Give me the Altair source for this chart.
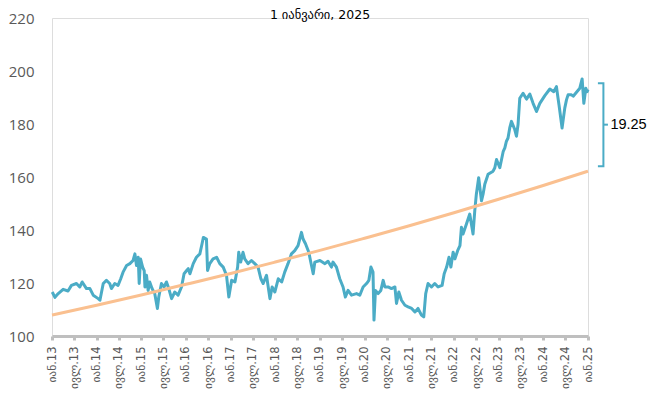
import altair as alt
import pandas as pd

title_text = "1 იანვარი, 2025"

blue_dates = [
"2013-01-03","2013-01-25","2013-02-21","2013-04-02","2013-05-12","2013-06-09","2013-07-20","2013-08-16",
"2013-09-05","2013-10-10","2013-11-07","2013-12-04","2014-01-14","2014-01-28","2014-02-24","2014-03-22",
"2014-04-18","2014-05-02","2014-05-29","2014-06-25","2014-07-17","2014-08-05","2014-09-03","2014-09-30",
"2014-10-26","2014-11-10","2014-11-23","2014-12-07","2014-12-15","2014-12-26","2015-01-12","2015-01-25",
"2015-01-31","2015-02-13","2015-02-26","2015-03-11","2015-03-30","2015-04-21","2015-05-13","2015-05-24",
"2015-06-15","2015-07-06","2015-07-26","2015-08-14","2015-09-06","2015-10-02","2015-10-29","2015-11-26",
"2015-12-17","2016-01-07","2016-01-20","2016-02-03","2016-03-01","2016-03-27","2016-04-24","2016-05-12",
"2016-05-23","2016-06-17","2016-06-26","2016-07-14","2016-08-10","2016-09-08","2016-10-04","2016-11-01",
"2016-11-28","2016-12-17","2017-01-09","2017-02-05","2017-02-27","2017-03-08","2017-03-24","2017-04-12",
"2017-04-26","2017-05-23","2017-06-20","2017-07-17","2017-08-13","2017-09-05","2017-09-24","2017-10-21",
"2017-11-18","2017-12-06","2017-12-28","2018-01-25","2018-02-22","2018-03-19","2018-04-15","2018-05-13",
"2018-06-09","2018-07-06","2018-08-03","2018-08-16","2018-09-05","2018-10-02","2018-10-18","2018-11-07",
"2018-11-20","2019-01-01","2019-02-11","2019-03-08","2019-04-05","2019-04-18","2019-05-16","2019-06-12",
"2019-07-09","2019-07-28","2019-08-19","2019-09-16","2019-10-27","2019-11-23","2019-12-20","2020-01-17",
"2020-02-05","2020-02-22","2020-03-10","2020-03-18","2020-03-30","2020-04-21","2020-05-13","2020-06-01",
"2020-06-15","2020-07-11","2020-08-08","2020-09-05","2020-09-18","2020-10-07","2020-10-29","2020-11-26",
"2020-12-22","2021-01-20","2021-02-16","2021-03-13","2021-04-10","2021-04-29","2021-05-15","2021-06-03",
"2021-07-01","2021-07-28","2021-08-24","2021-09-26","2021-10-13","2021-11-02","2021-11-21","2021-12-07",
"2021-12-25","2022-01-09","2022-01-31","2022-02-19","2022-03-03","2022-03-16","2022-04-13","2022-05-10",
"2022-06-06","2022-06-20","2022-07-03","2022-07-22","2022-08-14","2022-08-27","2022-09-10","2022-10-07",
"2022-11-17","2022-12-01","2022-12-15","2023-01-11","2023-02-08","2023-02-21","2023-03-06","2023-03-19",
"2023-04-02","2023-04-16","2023-05-13","2023-05-27","2023-06-09","2023-06-23","2023-07-20","2023-08-17",
"2023-09-13","2023-10-10","2023-11-07","2023-12-04","2024-01-14","2024-02-24","2024-03-27","2024-04-18",
"2024-05-01","2024-05-09","2024-06-03","2024-06-25","2024-07-09","2024-07-22","2024-08-19","2024-09-02",
"2024-09-29","2024-10-26","2024-11-14","2024-11-28","2024-12-14","2024-12-25","2025-01-01",
]
blue_values = [
116.6,114.6,116.0,117.6,117.0,119.1,119.8,118.5,
120.4,117.9,117.9,115.4,114.1,113.5,119.8,121.0,
119.8,117.9,119.8,119.1,121.6,124.1,126.6,127.3,
128.5,131.0,126.6,129.7,119.8,129.1,126.0,124.7,
118.5,122.9,117.2,120.4,117.9,116.0,110.4,114.7,
119.8,118.5,120.4,117.9,114.1,116.6,115.4,118.5,
123.5,124.7,125.4,123.5,127.3,129.7,131.0,134.8,
137.2,136.6,124.7,127.3,129.1,129.7,127.3,126.0,
122.9,114.7,121.0,120.4,126.0,131.6,127.9,131.6,
129.1,127.3,128.5,127.3,126.0,121.6,119.8,122.9,
114.1,118.5,116.6,121.6,120.4,124.1,127.3,131.0,
132.2,134.1,139.1,136.6,134.8,131.6,127.9,123.5,
127.9,128.5,127.3,128.2,126.0,127.9,126.0,121.6,
118.5,114.7,117.2,115.4,116.0,115.4,118.5,119.8,
121.0,126.0,124.1,106.0,117.2,116.0,117.2,121.0,
118.5,118.5,117.9,118.5,112.3,116.6,113.5,111.6,
111.0,110.4,109.1,110.4,107.9,107.2,116.0,119.8,
118.5,119.8,118.5,119.1,123.5,126.0,129.7,126.0,
131.6,129.1,132.2,134.1,141.0,138.5,142.3,146.0,
138.5,147.2,153.5,159.7,151.0,153.5,157.3,161.0,
162.2,163.5,166.6,163.5,169.7,171.0,173.5,174.7,
178.5,181.0,177.9,175.4,179.8,189.7,191.6,189.4,
191.3,187.8,184.7,187.8,190.7,193.2,192.2,194.1,
189.7,187.2,178.5,186.0,189.1,191.0,191.0,190.5,
192.0,193.5,197.0,187.8,193.5,192.2,193.0,
]

trend_dates = ["2013-01-01","2014-01-01","2015-01-01","2016-01-01","2017-01-01","2018-01-01","2019-01-01",
               "2020-01-01","2021-01-01","2022-01-01","2023-01-01","2024-01-01","2025-01-01"]
trend_values = [107.9,111.6,115.5,119.5,123.6,127.9,132.3,136.9,141.6,146.5,151.6,156.8,162.2]

tick_dates = ["2013-01-01","2013-07-01","2014-01-01","2014-07-01","2015-01-01","2015-07-01","2016-01-01",
              "2016-07-01","2017-01-01","2017-07-01","2018-01-01","2018-07-01","2019-01-01","2019-07-01",
              "2020-01-01","2020-07-01","2021-01-01","2021-07-01","2022-01-01","2022-07-01","2023-01-01",
              "2023-07-01","2024-01-01","2024-07-01","2025-01-01"]
tick_labels = ["იან.13","ივლ.13","იან.14","ივლ.14","იან.15","ივლ.15","იან.16","ივლ.16","იან.17","ივლ.17",
               "იან.18","ივლ.18","იან.19","ივლ.19","იან.20","ივლ.20","იან.21","ივლ.21","იან.22","ივლ.22",
               "იან.23","ივლ.23","იან.24","ივლ.24","იან.25"]
y_ticks = [100, 120, 140, 160, 180, 200, 220]

gap_top = 195.4
gap_bottom = 164.1
gap_label = "19.25"
bracket_left = "2025-03-23"
bracket_right = "2025-05-07"
bracket_tick = "2025-06-13"
label_date = "2025-07-03"

BLUE = "#4bacc6"
ORANGE = "#fac090"
GREY_TXT = "#595959"

blue_df = pd.DataFrame({"date": blue_dates, "value": blue_values})
trend_df = pd.DataFrame({"date": trend_dates, "value": trend_values})


def ms(d):
    return int(pd.Timestamp(d, tz="UTC").value // 10**6)


tick_ms = [ms(d) for d in tick_dates]
label_expr = "[" + ",".join("'" + t + "'" for t in tick_labels) + \
    "][round((utcyear(datum.value)-2013)*2 + utcmonth(datum.value)/6)]"

x_scale = alt.Scale(type="utc", domain=[ms(tick_dates[0]), ms(tick_dates[-1])])
y_scale = alt.Scale(domain=[100, 220], nice=False, zero=False)

x_axis = alt.Axis(values=tick_ms, tickCount=60, labelExpr=label_expr, labelAngle=-90, title=None,
                  grid=False, domainColor="#bfbfbf", domainWidth=3, tickColor="#bfbfbf",
                  tickWidth=3, tickSize=4, labelPadding=6, labelFont="DejaVu Sans",
                  labelFontSize=11.5, labelColor=GREY_TXT, labelAlign="right",
                  labelBaseline="middle", labelOverlap=False, labelFlush=False)
y_axis = alt.Axis(values=y_ticks, title=None, grid=False, domain=False, ticks=False,
                  labelPadding=18, labelFont="Open Sans", labelFontSize=15,
                  labelColor=GREY_TXT)

blue = alt.Chart(blue_df).mark_line(color=BLUE, strokeWidth=3, strokeJoin="round").encode(
    x=alt.X("date:T", scale=x_scale, axis=x_axis),
    y=alt.Y("value:Q", scale=y_scale, axis=y_axis),
)
trend = alt.Chart(trend_df).mark_line(color=ORANGE, strokeWidth=3, interpolate="monotone").encode(
    x="date:T", y="value:Q"
)

bracket_df = pd.DataFrame({
    "date": [bracket_left, bracket_right, bracket_right, bracket_left],
    "value": [gap_top, gap_top, gap_bottom, gap_bottom],
    "o": [0, 1, 2, 3],
})
bracket = alt.Chart(bracket_df).mark_line(color=BLUE, strokeWidth=2, clip=False).encode(
    x="date:T", y="value:Q", order="o:Q"
)
mid = (gap_top + gap_bottom) / 2
tick_df = pd.DataFrame({"date": [bracket_right], "date2": [bracket_tick], "value": [mid]})
btick = alt.Chart(tick_df).mark_rule(color=BLUE, strokeWidth=2, clip=False).encode(
    x="date:T", x2="date2:T", y="value:Q"
)
lab_df = pd.DataFrame({"date": [label_date], "value": [mid], "t": [gap_label]})
lab = alt.Chart(lab_df).mark_text(align="left", baseline="middle", font="Liberation Sans",
                                  fontSize=14.5, color="#000000", clip=False).encode(
    x="date:T", y="value:Q", text="t:N"
)
title_df = pd.DataFrame({"t": [title_text]})
title = alt.Chart(title_df).mark_text(align="center", baseline="middle", font="DejaVu Sans",
                                      fontSize=12.5, color="#000000").encode(
    x=alt.value(268), y=alt.value(-3), text="t:N"
)

chart = alt.layer(blue, trend, bracket, btick, lab, title).properties(
    width=536, height=318,
    autosize=alt.AutoSizeParams(type="none"),
    padding={"left": 44, "top": 10, "right": 61, "bottom": 59},
).configure_view(stroke=None).configure(background="white")

chart.save("out.html", embed_options={"renderer": "svg", "actions": False})
